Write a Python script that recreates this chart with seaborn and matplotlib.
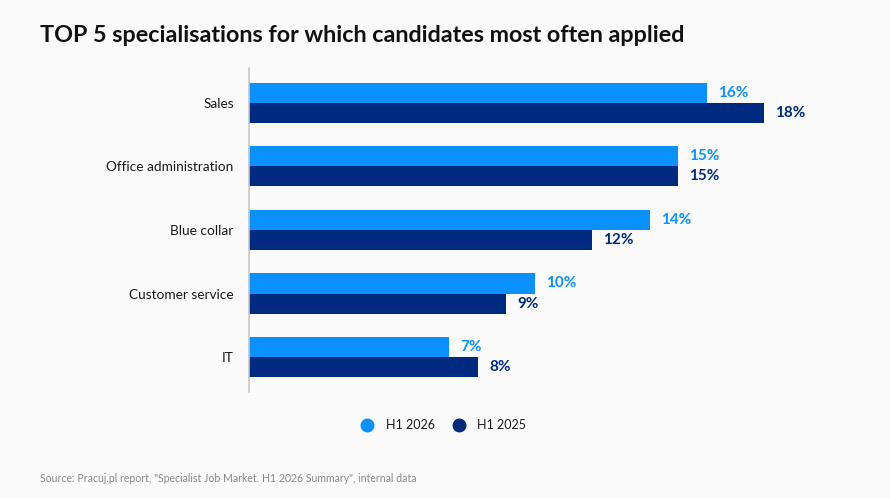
import matplotlib
matplotlib.use("Agg")
import matplotlib.pyplot as plt
from matplotlib.lines import Line2D
import seaborn as sns
import pandas as pd

categories = ["Sales", "Office administration", "Blue collar", "Customer service", "IT"]
h1_2026 = [16, 15, 14, 10, 7]
h1_2025 = [18, 15, 12, 9, 8]
series_names = ["H1 2026", "H1 2025"]
colors = ["#0a91fd", "#002a80"]

title = "TOP 5 specialisations for which candidates most often applied"
source = 'Source: Pracuj.pl report, "Specialist Job Market. H1 2026 Summary", internal data'

df = pd.DataFrame({
    "category": categories * 2,
    "value": h1_2026 + h1_2025,
    "series": [series_names[0]] * len(categories) + [series_names[1]] * len(categories),
})

sns.set_style("white")
plt.rcParams["font.family"] = ["Lato", "DejaVu Sans"]

bg = "#fafafa"
fig = plt.figure(figsize=(8.9, 4.98), dpi=100, facecolor=bg)
ax = fig.add_axes([0.2798, 0.2129, 0.675, 0.6506])
ax.set_facecolor(bg)

sns.barplot(data=df, y="category", x="value", hue="series", orient="h",
            palette=colors, width=0.63, saturation=1, ax=ax, legend=False,
            hue_order=series_names, order=categories, linewidth=0)

ax.set_xlim(0, 21)
ax.set_ylim(4.55, -0.55)
ax.set_xlabel("")
ax.set_ylabel("")
ax.set_xticks([])
for s in ["top", "right", "bottom"]:
    ax.spines[s].set_visible(False)
ax.spines["left"].set_color("#c8c8c8")
ax.spines["left"].set_linewidth(1.2)
ax.tick_params(axis="y", length=0, pad=11, labelsize=9.8, labelcolor="#1a1a1a")

for cont, col in zip(ax.containers, colors):
    labels = [f"{int(round(v))}%" for v in cont.datavalues]
    ax.bar_label(cont, labels=labels, padding=8, color=col, fontsize=11,
                 fontweight="bold")

fig.text(0.045, 0.928, title, fontsize=16.8, fontweight="bold", color="#111111",
         ha="left", va="center")

handles = [Line2D([], [], marker="o", linestyle="", markersize=9,
                  markerfacecolor=c, markeredgecolor=c) for c in colors]
fig.legend(handles, series_names, loc="center", bbox_to_anchor=(0.495, 0.146),
           ncol=2, frameon=False, fontsize=9, handletextpad=0.5,
           columnspacing=0.9, labelcolor="#1a1a1a")

fig.text(0.045, 0.04, source, fontsize=7.6, color="#8a8a8a", ha="left",
         va="center")

fig.savefig("out.png", dpi=100, facecolor=bg)
